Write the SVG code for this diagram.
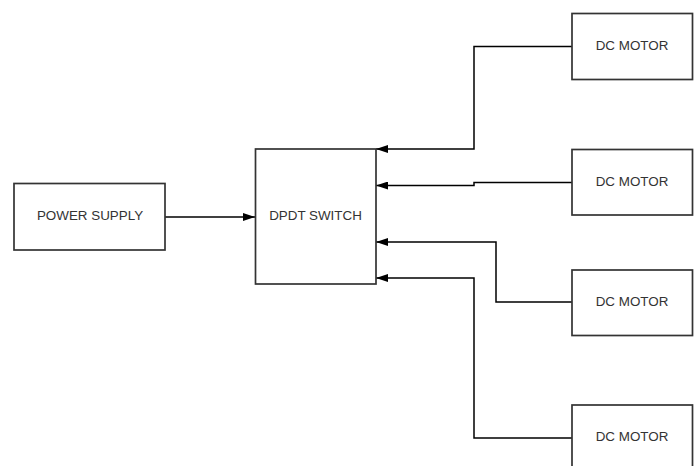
<svg xmlns="http://www.w3.org/2000/svg" width="698" height="466" viewBox="0 0 698 466">
<defs>
<style>
.box{fill:#fff;stroke:#333;stroke-width:1.7}
.lbl{font-family:"Liberation Sans",Arial,sans-serif;font-size:13.4px;fill:#333;text-anchor:middle;dominant-baseline:central}
.wire{fill:none;stroke:#000;stroke-width:1.5}
</style>
<marker id="ah" viewBox="0 0 12 8" refX="12" refY="4" markerWidth="12" markerHeight="8" markerUnits="userSpaceOnUse" orient="auto">
<path d="M0,0 L12,4 L0,8 Z" fill="#000"/>
</marker>
</defs>
<rect width="698" height="466" fill="#fff"/>
<g id="connectors">
<path class="wire" d="M165,217 H255" marker-end="url(#ah)"/>
<path class="wire" d="M572,46.5 H474 V149 H376" marker-end="url(#ah)"/>
<path class="wire" d="M572,182.5 H474 V185.5 H376" marker-end="url(#ah)"/>
<path class="wire" d="M572,302 H496 V242 H376" marker-end="url(#ah)"/>
<path class="wire" d="M572,438 H474 V278 H376" marker-end="url(#ah)"/>
</g>
<g id="power-supply">
<rect class="box" x="14" y="183.5" width="151" height="66.5"/>
<text class="lbl" x="90" y="215">POWER SUPPLY</text>
</g>
<g id="dpdt-switch">
<rect class="box" x="255.5" y="149" width="120.5" height="135"/>
<text class="lbl" x="315.5" y="215">DPDT SWITCH</text>
</g>
<g id="motor1">
<rect class="box" x="572" y="13.5" width="120.5" height="66"/>
<text class="lbl" x="632" y="45">DC MOTOR</text>
</g>
<g id="motor2">
<rect class="box" x="572" y="149.5" width="120.5" height="65.5"/>
<text class="lbl" x="632" y="181">DC MOTOR</text>
</g>
<g id="motor3">
<rect class="box" x="572" y="270" width="120.5" height="65.5"/>
<text class="lbl" x="632" y="301">DC MOTOR</text>
</g>
<g id="motor4">
<rect class="box" x="572" y="405" width="120.5" height="66"/>
<text class="lbl" x="632" y="436">DC MOTOR</text>
</g>
</svg>
